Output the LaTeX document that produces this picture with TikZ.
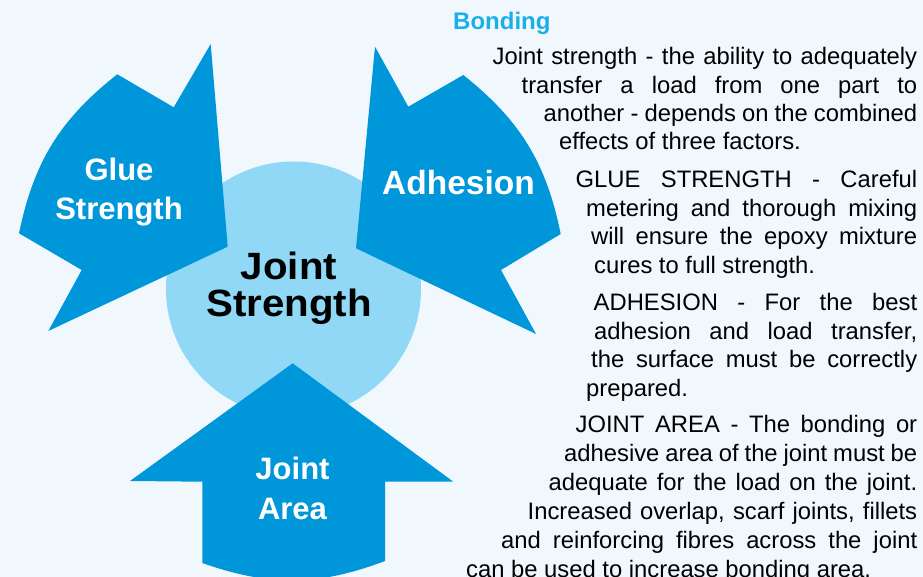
\documentclass[tikz,border=0pt]{standalone}
\usepackage{fontspec}
\setmainfont{Liberation Sans}
\newfontfamily\jsfont{Liberation Sans}[FakeStretch=1.06]
\definecolor{bgblue}{HTML}{F0F8FE}
\definecolor{arrowblue}{HTML}{0096DA}
\definecolor{circblue}{HTML}{90D8F6}
\definecolor{bondblue}{HTML}{1AAFEA}
\tikzset{
  arrowshape/.style={fill=arrowblue, draw=none},
  lbl/.style={text=white, font=\bfseries\fontsize{31}{39.5}\selectfont, align=center, inner sep=0pt, anchor=base},
  body/.style={font=\fontsize{23.8}{28.6}\selectfont, inner sep=0pt, anchor=base west, text=black},
}
\newcommand\jline[5]{\node[body] (#1) at (#2,#3) {\makebox[#4pt][s]{#5}};}
\newcommand\lastline[4]{\node[body] (#1) at (#2,#3) {#4};}
\begin{document}
\begin{tikzpicture}[x=1pt,y=-1pt]
\useasboundingbox (0,0) rectangle (923,577);
\fill[bgblue] (0,0) rectangle (923,577);
\begin{scope}
\clip (0,0) rectangle (923,577);
% central circle
\fill[circblue] (293.5,289) circle[radius=127.5];
% Glue Strength arrow
\fill[arrowshape] (227.7,246.7) -- (210.7,44) -- (173.7,107.3) -- (117.3,74.3)
  to[bend right=20] (19,233.3) -- (81.7,270) -- (48.3,331) -- cycle;
% Adhesion arrow
\fill[arrowshape] (356,248.3) -- (375,46.7) -- (408.3,106.7) -- (463.3,75)
  to[bend left=20] (560.7,234) -- (501,270) -- (536,334) -- cycle;
% Joint Area arrow
\fill[arrowshape] (292.7,363.3) -- (453.3,481.7) -- (385,481.7) -- (385,561)
  to[bend left=20] (202.3,563) -- (202.3,481.7) -- (130,481) -- cycle;
\end{scope}
% labels (base anchor = baseline of the last line)
\node[lbl] (glue) at (119,220) {Glue\\Strength};
\node[lbl, font=\bfseries\fontsize{33.5}{40}\selectfont] (adh) at (458.5,195) {Adhesion};
\node[lbl] (jarea) at (292.5,519) {Joint\\Area};
\node[lbl, text=black, font=\jsfont\bfseries\fontsize{38}{37.4}\selectfont] (js) at (289,316.7) {Joint\\Strength};
% right column
\node[anchor=base west, inner sep=0pt, text=bondblue, font=\bfseries\fontsize{24}{28}\selectfont] (title) at (453,29.3) {Bonding};
\jline{l1}{492.5}{65}{424.5}{Joint strength - the ability to adequately}
\jline{l2}{521.5}{93.3}{395.5}{transfer a load from one part to}
\jline{l3}{543.5}{121.7}{373.5}{another - depends on the combined}
\lastline{l4}{559}{150}{effects of three factors.}
\jline{l5}{575.5}{187.7}{341.5}{GLUE STRENGTH - Careful}
\jline{l6}{586}{216.7}{331}{metering and thorough mixing}
\jline{l7}{591}{245}{326}{will ensure the epoxy mixture}
\lastline{l8}{594}{273.3}{cures to full strength.}
\jline{l9}{593.5}{310.7}{323.5}{ADHESION - For the best}
\jline{l10}{594}{339.3}{323}{adhesion and load transfer,}
\jline{l11}{591}{367.7}{326}{the surface must be correctly}
\lastline{l12}{586}{396.7}{prepared.}
\jline{l13}{575.5}{432.7}{341.5}{JOINT AREA - The bonding or}
\jline{l14}{564}{461.7}{353}{adhesive area of the joint must be}
\jline{l15}{548.5}{490.7}{368.5}{adequate for the load on the joint.}
\jline{l16}{527.5}{519.3}{389.5}{Increased overlap, scarf joints, fillets}
\jline{l17}{501}{548.3}{416}{and reinforcing fibres across the joint}
\lastline{l18}{466}{577}{can be used to increase bonding area.}
\end{tikzpicture}
\end{document}
